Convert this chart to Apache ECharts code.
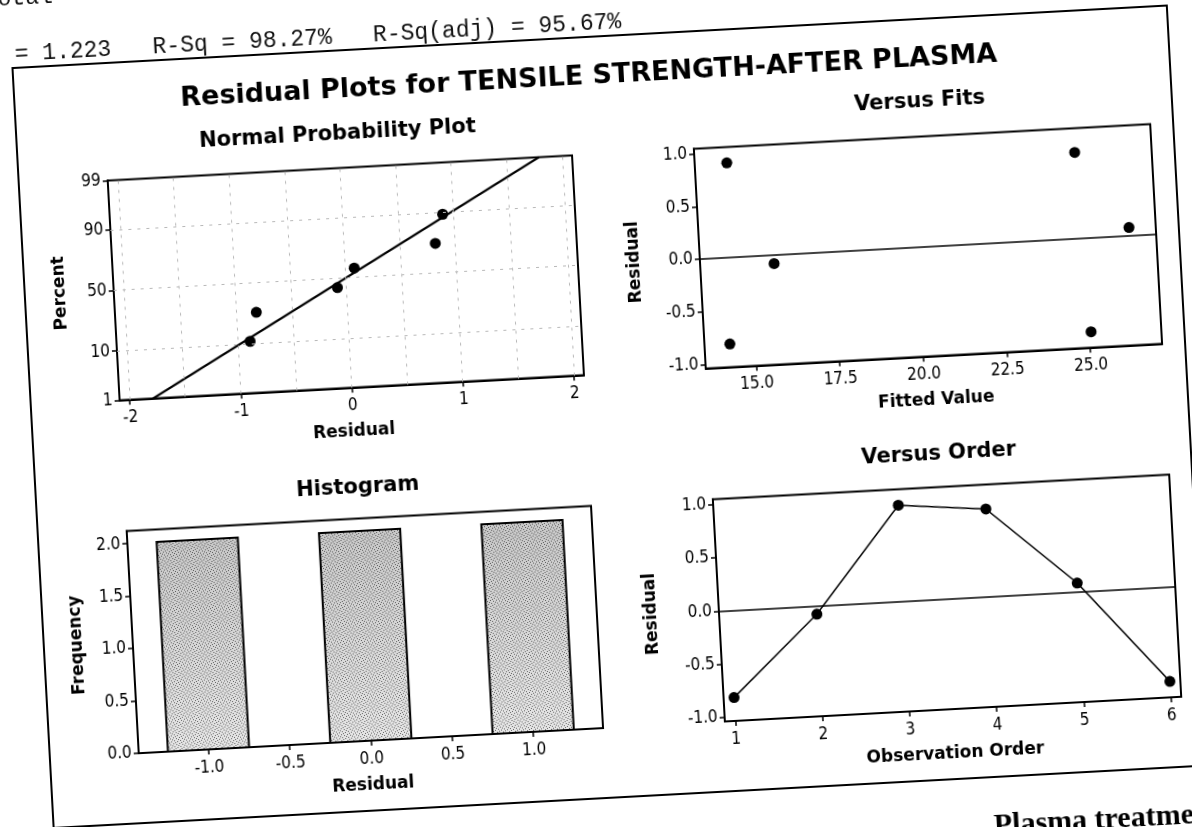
<!DOCTYPE html>
<html>
<head>
<meta charset="utf-8">
<script src="https://cdn.jsdelivr.net/npm/echarts@6/dist/echarts.min.js"></script>
<style>
  html, body { margin: 0; padding: 0; background: #fff; overflow: hidden; width: 1192px; height: 827px; }
  #wrap { position: absolute; left: -60px; top: -60px; width: 1312px; height: 947px;
          transform: rotate(-3.1deg); transform-origin: 656px 473px; }
</style>
</head>
<body>
<div id="wrap"></div>
<script>
// ---- data ----
const observationOrder = [1, 2, 3, 4, 5, 6];
const residuals = [-0.82, -0.08, 0.90, 0.82, 0.08, -0.89];
const fittedValues = [14.25, 15.7, 14.45, 24.85, 26.35, 25.05];
const nppPercent = [10.9, 26.6, 42.2, 57.8, 73.4, 89.1];   // plotting positions of sorted residuals
const histBinStart = [-1.25, -0.25, 0.75];
const histBinEnd = [-0.75, 0.25, 1.25];
const histFrequency = [2, 2, 2];

// tick labels
const pctTicks = [1, 10, 50, 90, 99];
const pctGrid = [10, 50, 90];
const nppResidTicks = [-2, -1, 0, 1, 2];
const nppResidGrid = [-2, -1.5, -1, -0.5, 0, 0.5, 1, 1.5, 2];
const fitTicks = [15, 17.5, 20, 22.5, 25];
const residTicks = [-1, -0.5, 0, 0.5, 1];
const histTicks = [-1, -0.5, 0, 0.5, 1];
const freqTicks = [0, 0.5, 1, 1.5, 2];
const orderTicks = [1, 2, 3, 4, 5, 6];

// texts
const mainTitle = 'Residual Plots for TENSILE STRENGTH-AFTER PLASMA';
const headerLine = '= 1.223   R-Sq = 98.27%   R-Sq(adj) = 95.67%';
const topCut = 'Total';
const bottomCut = 'Plasma treatment';

// ---- normal probability scale (percent -> z) ----
function qnorm(p) {
  const a = [-3.969683028665376e+01, 2.209460984245205e+02, -2.759285104469687e+02, 1.383577518672690e+02, -3.066479806614716e+01, 2.506628277459239e+00];
  const b = [-5.447609879822406e+01, 1.615858368580409e+02, -1.556989798598866e+02, 6.680131188771972e+01, -1.328068155288572e+01];
  const c = [-7.784894002430293e-03, -3.223964580411365e-01, -2.400758277161838e+00, -2.549732539343734e+00, 4.374664141464968e+00, 2.938163982698783e+00];
  const d = [7.784695709041462e-03, 3.224671290700398e-01, 2.445134137142996e+00, 3.754408661907416e+00];
  const pl = 0.02425, ph = 1 - pl;
  let q, r;
  if (p < pl) { q = Math.sqrt(-2 * Math.log(p));
    return (((((c[0]*q+c[1])*q+c[2])*q+c[3])*q+c[4])*q+c[5]) / ((((d[0]*q+d[1])*q+d[2])*q+d[3])*q+1); }
  if (p > ph) { q = Math.sqrt(-2 * Math.log(1 - p));
    return -(((((c[0]*q+c[1])*q+c[2])*q+c[3])*q+c[4])*q+c[5]) / ((((d[0]*q+d[1])*q+d[2])*q+d[3])*q+1); }
  q = p - 0.5; r = q * q;
  return (((((a[0]*r+a[1])*r+a[2])*r+a[3])*r+a[4])*r+a[5])*q / (((((b[0]*r+b[1])*r+b[2])*r+b[3])*r+b[4])*r+1);
}
const z = pct => qnorm(pct / 100);
const zTicks = pctTicks.map(z);
const zMin = z(1), zMax = z(99);

const sortedResid = residuals.slice().sort((a, b) => a - b);
const nppPoints = sortedResid.map((r, i) => [r, z(nppPercent[i])]);
const mean = residuals.reduce((s, v) => s + v, 0) / residuals.length;
const sd = Math.sqrt(residuals.reduce((s, v) => s + (v - mean) * (v - mean), 0) / (residuals.length - 1));
const fitLine = [[mean + sd * zMin, zMin], [mean + sd * zMax, zMax]];

// ---- styling helpers ----
const TICK_FONT = '"DejaVu Sans Condensed", "DejaVu Sans", sans-serif';
const BOLD_FONT = '"DejaVu Sans", sans-serif';
const fmt1 = v => v.toFixed(1);

function valueAxis(o) {
  return {
    type: 'value', gridIndex: o.grid, min: o.min, max: o.max,
    name: o.name, nameLocation: 'middle', nameGap: o.nameGap,
    nameRotate: o.rotate || 0,
    nameTextStyle: { fontFamily: BOLD_FONT, fontWeight: 'bold', fontSize: 17, color: '#000' },
    axisLine: { show: true, onZero: false, lineStyle: { color: '#000', width: 2 } },
    axisTick: { show: true, inside: false, length: 5, customValues: o.ticks, lineStyle: { color: '#000', width: 1.5 } },
    axisLabel: { show: true, customValues: o.ticks, formatter: o.fmt, margin: o.margin,
                 fontFamily: TICK_FONT, fontSize: 17, color: '#000' },
    splitLine: { show: false }
  };
}

const G = { npp: { left: 181, top: 214.5, width: 465, height: 220 },
            vf:  { left: 768, top: 214.5, width: 457, height: 220 },
            hi:  { left: 181, top: 565.5, width: 465, height: 222.5 },
            vo:  { left: 768, top: 565.5, width: 457, height: 222.5 } };
const gridBox = g => Object.assign({ show: true, borderColor: '#000', borderWidth: 2, backgroundColor: 'transparent' }, g);

const gridLineStyle = { color: '#b8b8b8', width: 1, type: [3, 6] };
const zeroLine = () => ({ silent: true, symbol: 'none', label: { show: false },
  lineStyle: { color: '#000', width: 1.5, type: 'solid' }, data: [{ yAxis: 0 }] });
const dotStyle = { color: '#000', opacity: 1 };

// stippled fill, like the scanned histogram bars
function stipple() {
  const c = document.createElement('canvas'); c.width = 6; c.height = 6;
  const g = c.getContext('2d');
  g.fillStyle = '#e6e6e6'; g.fillRect(0, 0, 6, 6);
  g.fillStyle = '#666666';
  [[0, 0], [3, 1], [1, 3], [4, 4], [2, 5], [5, 2]].forEach(p => g.fillRect(p[0], p[1], 1, 1));
  return c;
}
const stippleCanvas = stipple();

const chart = echarts.init(document.getElementById('wrap'), null, { renderer: 'canvas' });

const subTitle = (text, x, y) => ({ type: 'text', x: x, y: y, silent: true,
  style: { text: text, fill: '#000', font: 'bold 21px ' + BOLD_FONT, align: 'center', verticalAlign: 'middle',
           textAlign: 'center', textVerticalAlign: 'middle' } });

chart.setOption({
  animation: false,
  backgroundColor: '#fff',
  grid: [gridBox(G.npp), gridBox(G.vf), gridBox(G.hi), gridBox(G.vo)],
  xAxis: [
    valueAxis({ grid: 0, min: -2.09, max: 2.09, ticks: nppResidTicks, fmt: v => String(v), margin: 10, name: 'Residual', nameGap: 36 }),
    valueAxis({ grid: 1, min: 13.49, max: 27.15, ticks: fitTicks, fmt: fmt1, margin: 10, name: 'Fitted Value', nameGap: 36 }),
    valueAxis({ grid: 2, min: -1.43, max: 1.43, ticks: histTicks, fmt: fmt1, margin: 10, name: 'Residual', nameGap: 36 }),
    valueAxis({ grid: 3, min: 0.88, max: 6.12, ticks: orderTicks, fmt: v => String(v), margin: 10, name: 'Observation Order', nameGap: 36 })
  ],
  yAxis: [
    valueAxis({ grid: 0, min: zMin, max: zMax, ticks: zTicks, margin: 7, name: 'Percent', nameGap: 45, rotate: 90,
      fmt: v => { const i = zTicks.findIndex(t => Math.abs(t - v) < 1e-6); return i >= 0 ? String(pctTicks[i]) : ''; } }),
    valueAxis({ grid: 1, min: -1.04, max: 1.05, ticks: residTicks, fmt: fmt1, margin: 7, name: 'Residual', nameGap: 57, rotate: 90 }),
    valueAxis({ grid: 2, min: 0, max: 2.12, ticks: freqTicks, fmt: fmt1, margin: 7, name: 'Frequency', nameGap: 47, rotate: 90 }),
    valueAxis({ grid: 3, min: -1.04, max: 1.05, ticks: residTicks, fmt: fmt1, margin: 7, name: 'Residual', nameGap: 59, rotate: 90 })
  ],
  series: [
    { type: 'line', xAxisIndex: 0, yAxisIndex: 0, data: fitLine, showSymbol: false, symbol: 'none',
      lineStyle: { color: '#000', width: 2 }, clip: true, silent: true, z: 3,
      markLine: { silent: true, symbol: 'none', label: { show: false }, lineStyle: gridLineStyle,
        data: nppResidGrid.map(v => ({ xAxis: v })).concat(pctGrid.map(p => ({ yAxis: z(p) }))) } },
    { type: 'scatter', xAxisIndex: 0, yAxisIndex: 0, data: nppPoints, symbol: 'circle', symbolSize: 11,
      itemStyle: dotStyle, z: 4 },
    { type: 'scatter', xAxisIndex: 1, yAxisIndex: 1, data: fittedValues.map((f, i) => [f, residuals[i]]),
      symbol: 'circle', symbolSize: 11, itemStyle: dotStyle, markLine: zeroLine() },
    { type: 'custom', xAxisIndex: 2, yAxisIndex: 2,
      data: histBinStart.map((s, i) => [s, histBinEnd[i], histFrequency[i]]),
      encode: { x: [0, 1], y: 2 },
      renderItem: function (params, api) {
        const p0 = api.coord([api.value(0), api.value(2)]);
        const p1 = api.coord([api.value(1), 0]);
        const shape = { x: p0[0], y: p0[1], width: p1[0] - p0[0], height: p1[1] - p0[1] };
        return { type: 'group', children: [
          { type: 'rect', shape: shape, style: { fill: { image: stippleCanvas, repeat: 'repeat' } } },
          { type: 'rect', shape: shape, style: { fill: new echarts.graphic.LinearGradient(0, 0, 0, 1, [
              { offset: 0, color: 'rgba(0,0,0,0.13)' }, { offset: 1, color: 'rgba(0,0,0,0)' }]) } },
          { type: 'rect', shape: shape, style: { fill: 'none', stroke: '#000', lineWidth: 2 } }
        ] };
      } },
    { type: 'line', xAxisIndex: 3, yAxisIndex: 3, data: observationOrder.map((o, i) => [o, residuals[i]]),
      symbol: 'circle', symbolSize: 11, showSymbol: true, itemStyle: dotStyle,
      lineStyle: { color: '#000', width: 1.5 }, markLine: zeroLine() }
  ],
  graphic: [
    { type: 'rect', silent: true, shape: { x: 92, y: 97, width: 1156, height: 761 },
      style: { fill: 'none', stroke: '#000', lineWidth: 2 } },
    { type: 'text', x: 667, y: 137, silent: true,
      style: { text: mainTitle, fill: '#000', font: 'bold 27px ' + BOLD_FONT, align: 'center', verticalAlign: 'middle',
               textAlign: 'center', textVerticalAlign: 'middle' } },
    subTitle('Normal Probability Plot', 413, 181),
    subTitle('Versus Fits', 996, 180),
    subTitle('Histogram', 414, 535),
    subTitle('Versus Order', 996, 533),
    { type: 'text', x: 95, y: 84, silent: true,
      style: { text: headerLine, fill: '#111', font: '23px "Liberation Mono", "DejaVu Sans Mono", monospace',
               align: 'left', verticalAlign: 'middle', textAlign: 'left', textVerticalAlign: 'middle' } },
    { type: 'text', x: 67, y: 28, silent: true,
      style: { text: topCut, fill: '#111', font: '23px "Liberation Mono", "DejaVu Sans Mono", monospace',
               align: 'left', verticalAlign: 'middle', textAlign: 'left', textVerticalAlign: 'middle' } },
    { type: 'text', x: 1031, y: 892, silent: true,
      style: { text: bottomCut, fill: '#000', font: 'bold 30px "Liberation Serif", "DejaVu Serif", serif',
               align: 'left', verticalAlign: 'top', textAlign: 'left', textVerticalAlign: 'top' } }
  ]
});
</script>
</body>
</html>
